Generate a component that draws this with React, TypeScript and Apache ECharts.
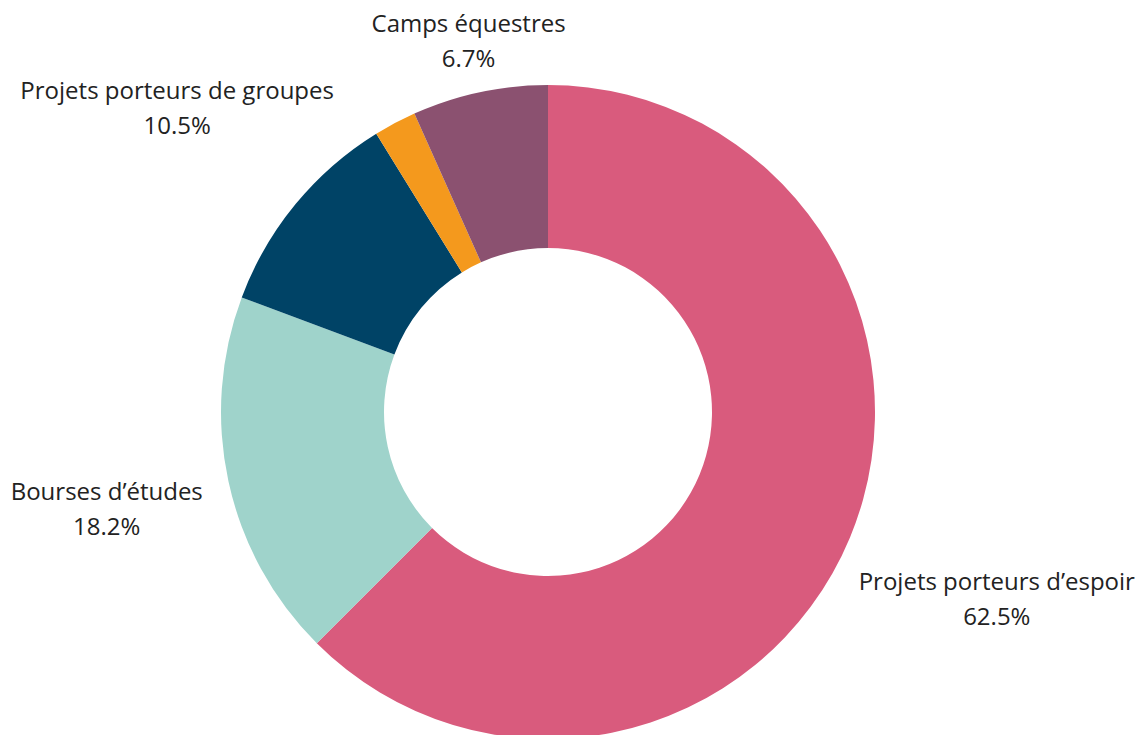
import React, { useEffect, useRef } from "react";
import * as echarts from "echarts";

const categories = [
  "Projets porteurs d’espoir",
  "Bourses d’études",
  "Projets porteurs de groupes",
  "Autres",
  "Camps équestres",
];
const values = [62.5, 18.2, 10.5, 2.1, 6.7];
const colors = ["#D95B7D", "#9FD3CB", "#004366", "#F4991D", "#8B5170"];
const hiddenLabels = ["Autres"];

const CX = 548;
const CY = 412;
const R_IN = 164;
const R_OUT = 327;
const LABEL_GAP = 357;

export default function App() {
  const ref = useRef<HTMLDivElement>(null);
  useEffect(() => {
    document.body.style.margin = "0";
    const chart = echarts.init(ref.current!, null, { renderer: "svg" });
    const total = values.reduce((a, b) => a + b, 0);
    const cum: number[] = [];
    values.reduce((acc, v, i) => {
      cum[i] = acc;
      return acc + v;
    }, 0);
    chart.setOption({
      animation: false,
      backgroundColor: "#ffffff",
      series: [
        {
          type: "pie",
          center: [CX, CY],
          radius: [R_IN, R_OUT],
          startAngle: 90,
          clockwise: true,
          percentPrecision: 1,
          avoidLabelOverlap: false,
          label: {
            show: true,
            position: "outside",
            formatter: "{b}\n{d}%",
            fontFamily: "'Open Sans', 'Noto Sans', sans-serif",
            fontWeight: 400,
            fontSize: 24,
            lineHeight: 35,
            color: "#222222",
            align: "center",
          },
          labelLine: { show: false },
          labelLayout: (p: any) => {
            const i = p.dataIndex;
            const mid = ((cum[i] + values[i] / 2) / total) * Math.PI * 2;
            const dx = Math.sin(mid);
            const dy = -Math.cos(mid);
            const hw = p.labelRect.width / 2;
            const R = LABEL_GAP + hw * Math.abs(dx) + 3 * Math.abs(dy);
            return {
              x: CX + dx * R,
              y: CY + dy * R,
              align: "center",
              verticalAlign: "middle",
            };
          },
          emphasis: { disabled: true },
          data: categories.map((name, i) => ({
            name,
            value: values[i],
            itemStyle: { color: colors[i] },
            label: hiddenLabels.includes(name) ? { show: false } : undefined,
          })),
        },
      ],
    });
    return () => chart.dispose();
  }, []);
  return (
    <div
      ref={ref}
      style={{ position: "absolute", left: 0, top: 0, width: 1145, height: 735 }}
    />
  );
}
